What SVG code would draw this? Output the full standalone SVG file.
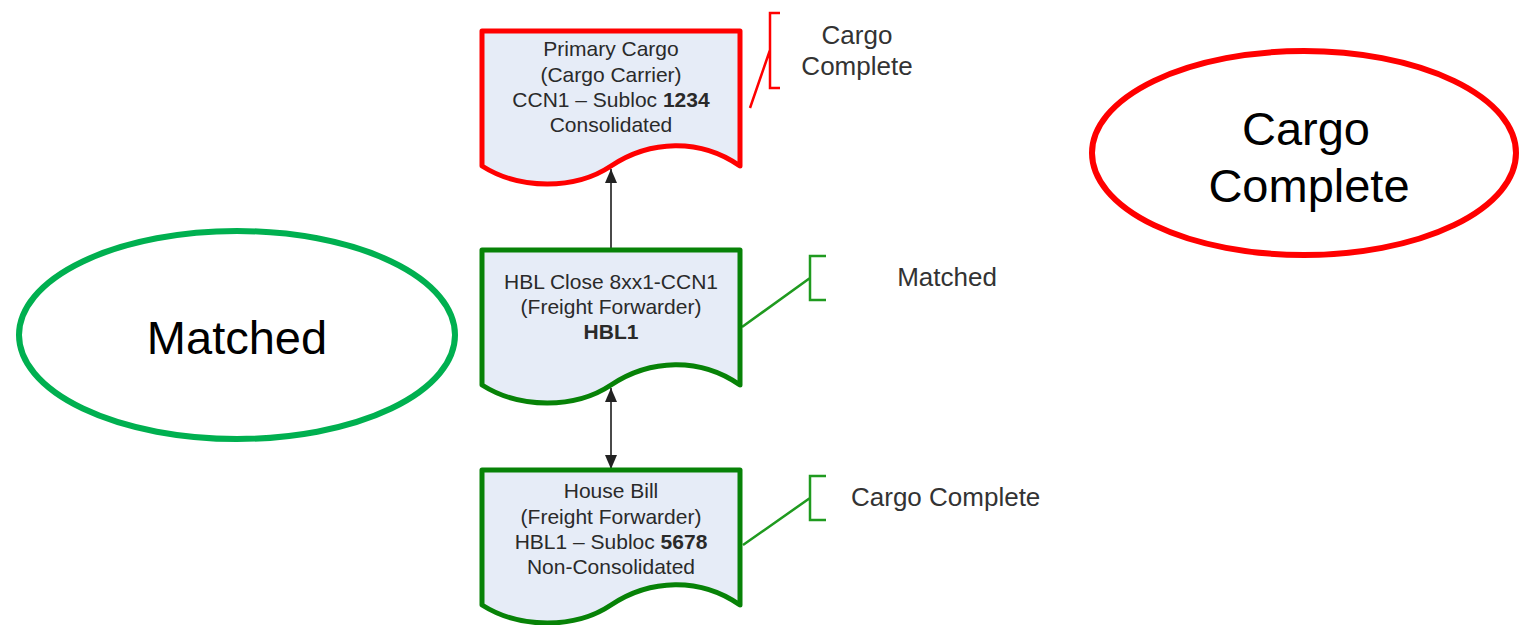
<svg xmlns="http://www.w3.org/2000/svg" width="1520" height="625" viewBox="0 0 1520 625">
  <style>
    .doc { fill: #e6ecf7; stroke-width: 5; stroke-linejoin: round; }
    .red { stroke: #ff0000; }
    .green { stroke: #078207; }
    .t { font-family: "Liberation Sans", Arial, sans-serif; font-size: 21px; fill: #2a2a2a; text-anchor: middle; }
    .b { font-weight: bold; }
    .lbl { font-family: "Liberation Sans", Arial, sans-serif; font-size: 26px; fill: #333333; }
    .big { font-family: "Liberation Sans", Arial, sans-serif; font-size: 47px; fill: #000000; text-anchor: middle; }
    .conn { stroke: #4a4a4a; stroke-width: 2; fill: none; }
    .callR { stroke: #ff0000; stroke-width: 2.5; fill: none; }
    .callG { stroke: #1f9a1f; stroke-width: 2.5; fill: none; }
  </style>
  <defs>
    <path id="docshape" d="M0,0 H258 V135 C218,107 168,109 129,135 C93,159 38,159 0,135 Z"/>
    <marker id="arr" viewBox="0 0 14 12" refX="14" refY="6" markerWidth="14" markerHeight="12" markerUnits="userSpaceOnUse" orient="auto-start-reverse">
      <path d="M0,0 L14,6 L0,12 Z" fill="#222222"/>
    </marker>
  </defs>
  <rect width="1520" height="625" fill="#ffffff"/>

  <g id="connectors">
    <line class="conn" x1="611" y1="250" x2="611" y2="169" marker-end="url(#arr)"/>
    <line class="conn" x1="611" y1="388" x2="611" y2="469" marker-start="url(#arr)" marker-end="url(#arr)"/>
    <path class="callR" d="M750,108 L770,50 M780,13 H770 V88 H780"/>
    <path class="callG" d="M742,327 L810,278 M826,256 H810 V300 H826"/>
    <path class="callG" d="M743,545 L810,498 M826,476 H810 V520 H826"/>
  </g>

  <g id="primary-cargo">
    <use href="#docshape" transform="translate(482,31)" class="doc red"/>
    <text class="t" x="611" y="56">Primary Cargo</text>
    <text class="t" x="611" y="82">(Cargo Carrier)</text>
    <text class="t" x="611" y="107">CCN1 – Subloc <tspan class="b">1234</tspan></text>
    <text class="t" x="611" y="132">Consolidated</text>
  </g>

  <g id="hbl-close">
    <use href="#docshape" transform="translate(482,250)" class="doc green"/>
    <text class="t" x="611" y="289" fill="#111">HBL Close 8xx1-CCN1</text>
    <text class="t" x="611" y="314">(Freight Forwarder)</text>
    <text class="t b" x="611" y="339">HBL1</text>
  </g>

  <g id="house-bill">
    <use href="#docshape" transform="translate(482,470)" class="doc green"/>
    <text class="t" x="611" y="498">House Bill</text>
    <text class="t" x="611" y="524">(Freight Forwarder)</text>
    <text class="t" x="611" y="549">HBL1 – Subloc <tspan class="b">5678</tspan></text>
    <text class="t" x="611" y="574">Non-Consolidated</text>
  </g>

  <g id="label-cargo-complete-top">
    <text class="lbl" x="857" y="44" text-anchor="middle">Cargo</text>
    <text class="lbl" x="857" y="75" text-anchor="middle">Complete</text>
  </g>
  <g id="label-matched">
    <text class="lbl" x="947" y="286" text-anchor="middle">Matched</text>
  </g>
  <g id="label-cargo-complete-bottom">
    <text class="lbl" x="851" y="506">Cargo Complete</text>
  </g>

  <g id="ellipse-matched">
    <ellipse cx="237" cy="335" rx="218" ry="104" fill="#ffffff" stroke="#00b050" stroke-width="6"/>
    <text class="big" x="237" y="354">Matched</text>
  </g>

  <g id="ellipse-cargo-complete">
    <ellipse cx="1304" cy="153" rx="212" ry="102" fill="#ffffff" stroke="#ff0000" stroke-width="6"/>
    <text class="big" x="1306" y="145">Cargo</text>
    <text class="big" x="1309" y="202">Complete</text>
  </g>
</svg>
